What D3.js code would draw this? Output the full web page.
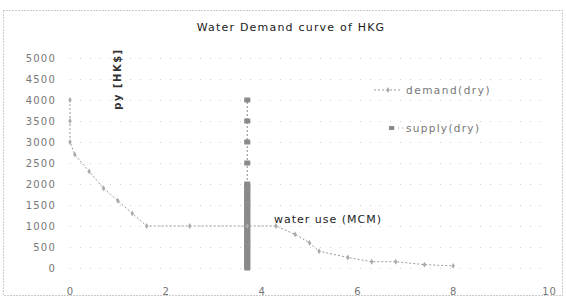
<!DOCTYPE html>
<html><head><meta charset="utf-8">
<script src="https://cdn.jsdelivr.net/npm/d3@7"></script>
<style>body{margin:0;background:#fff}svg{display:block}</style>
</head><body>
<script>
const demandX = [0, 0, 0, 0.1, 0.4, 0.7, 1.0, 1.3, 1.6, 2.5, 3.7, 4.3, 4.7, 5.0, 5.2, 5.8, 6.3, 6.8, 7.4, 8.0];
const demandY = [4000, 3500, 3000, 2700, 2300, 1900, 1600, 1300, 1000, 1000, 1000, 1000, 800, 600, 400, 250, 150, 150, 80, 50];
const supplyX = 3.7;
const supplyY = [0,50,100,150,200,250,300,350,400,450,500,550,600,650,700,750,800,850,900,950,1000,1050,1100,1150,1200,1250,1300,1350,1400,1450,1500,1550,1600,1650,1700,1750,1800,1850,1900,1950,2000,2500,3000,3500,4000];
const yTicks = [0,500,1000,1500,2000,2500,3000,3500,4000,4500,5000];
const xTicks = [0,2,4,6,8,10];
const title = "Water Demand curve of HKG";
const yTitle = "py [HK$]";
const xTitle = "water use (MCM)";
const legendNames = ["demand(dry)", "supply(dry)"];

const W = 566, H = 298;
const FONT = "DejaVu Sans";
const svg = d3.select("body").append("svg").attr("width", W).attr("height", H);
svg.append("rect").attr("x",3.5).attr("y",10.5).attr("width",W-7).attr("height",285)
  .attr("fill","none").attr("stroke","#999").attr("stroke-dasharray","1,2");

const x = d3.scaleLinear().domain([0,10]).range([70,549]);
const y = d3.scaleLinear().domain([0,5000]).range([268,58]);

// gridlines
svg.append("g").selectAll("line").data(yTicks).join("line")
  .attr("x1",x(0)).attr("x2",x(10)).attr("y1",d=>y(d)+0.5).attr("y2",d=>y(d)+0.5)
  .attr("stroke","#cfcfcf").attr("stroke-dasharray","1,9");

// y axis labels
const yAxis = d3.axisLeft(y).tickValues(yTicks).tickSize(0).tickPadding(14).tickFormat(d3.format("d"));
const gy = svg.append("g").attr("transform",`translate(${x(0)},0)`).call(yAxis);
gy.select(".domain").remove();
gy.selectAll("text").attr("font-family",FONT).attr("font-size",10).attr("letter-spacing",1.2).attr("fill","#777");

const xAxis = d3.axisBottom(x).tickValues(xTicks).tickSize(0).tickPadding(10).tickFormat(d3.format("d"));
const gx = svg.append("g").attr("transform",`translate(0,${y(0)+10})`).call(xAxis);
gx.select(".domain").remove();
gx.selectAll("text").attr("font-family",FONT).attr("font-size",10).attr("letter-spacing",1).attr("fill","#777");

// title
svg.append("text").attr("x",291).attr("y",31).attr("text-anchor","middle")
  .attr("font-family",FONT).attr("font-size",11).attr("letter-spacing",1.2).attr("fill","#222").text(title);
svg.append("text").attr("transform","translate(121,79) rotate(-90)").attr("text-anchor","middle")
  .attr("font-family",FONT).attr("font-size",10).attr("letter-spacing",1.5).attr("font-weight","bold").attr("fill","#333").text(yTitle);
svg.append("text").attr("x",274).attr("y",223)
  .attr("font-family",FONT).attr("font-size",11).attr("letter-spacing",1).attr("fill","#222").text(xTitle);

// supply
const sup = supplyY.map(v=>({x:supplyX,y:v}));
svg.append("path").datum(sup).attr("fill","none").attr("stroke","#888").attr("stroke-width",1)
  .attr("stroke-dasharray","2,2")
  .attr("d",d3.line().x(d=>x(d.x)).y(d=>y(d.y)));
svg.append("g").selectAll("rect").data(sup).join("rect")
  .attr("x",d=>x(d.x)-3).attr("y",d=>y(d.y)-2.5).attr("width",6).attr("height",5)
  .attr("fill","#8a8a8a");

// demand
const dem = demandX.map((v,i)=>({x:v,y:demandY[i]}));
svg.append("path").datum(dem).attr("fill","none").attr("stroke","#999").attr("stroke-width",1)
  .attr("stroke-dasharray","2,2")
  .attr("d",d3.line().x(d=>x(d.x)).y(d=>y(d.y)));
svg.append("g").selectAll("path").data(dem).join("path")
  .attr("transform",d=>`translate(${x(d.x)},${y(d.y)})`)
  .attr("d",d3.symbol(d3.symbolDiamond,10)).attr("fill","#aaa");

// legend
const lg = svg.append("g");
lg.append("line").attr("x1",374).attr("x2",402).attr("y1",90).attr("y2",90)
  .attr("stroke","#999").attr("stroke-dasharray","2,2");
lg.append("path").attr("transform","translate(388,90)").attr("d",d3.symbol(d3.symbolDiamond,10)).attr("fill","#aaa");
lg.append("text").attr("x",406).attr("y",94).attr("font-family",FONT).attr("font-size",10.5).attr("letter-spacing",1.5).attr("fill","#777").text(legendNames[0]);
lg.append("rect").attr("x",389).attr("y",126).attr("width",5).attr("height",4).attr("fill","#8a8a8a");
lg.append("line").attr("x1",394).attr("x2",404).attr("y1",128).attr("y2",128).attr("stroke","#aaa").attr("stroke-dasharray","1,3");
lg.append("text").attr("x",406).attr("y",132).attr("font-family",FONT).attr("font-size",10.5).attr("letter-spacing",1.3).attr("fill","#777").text(legendNames[1]);
</script>
</body></html>
